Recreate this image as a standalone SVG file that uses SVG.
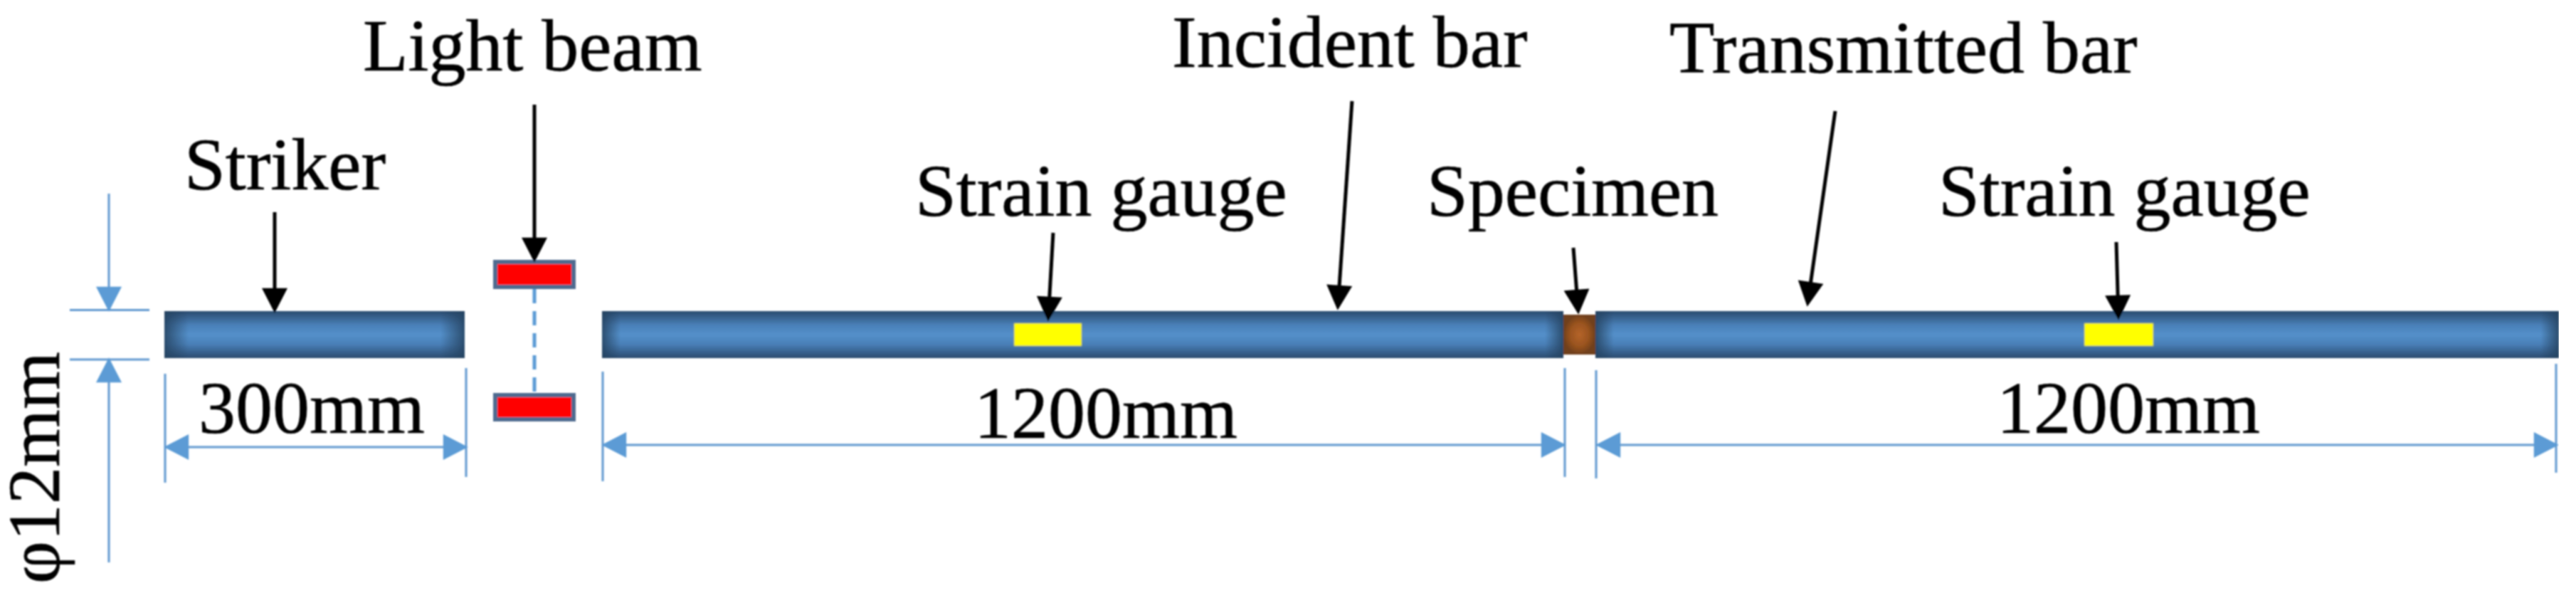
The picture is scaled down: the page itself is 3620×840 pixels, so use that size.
<svg xmlns="http://www.w3.org/2000/svg" width="3620" height="840" viewBox="0 0 3620 840">
<style>
.t{font-family:"Liberation Serif","Times New Roman",serif;font-size:104px;fill:#000;stroke:#000;stroke-width:.7}
.blk{stroke:#000;stroke-width:5;fill:none;marker-end:url(#ah)}
.dim{stroke:#5f97cf;stroke-width:3;fill:none}
.one{marker-end:url(#bh)}
.two{marker-start:url(#bh);marker-end:url(#bh)}
.shade{fill:url(#endL)}
.red{fill:#f00;stroke:#4f6a8f;stroke-width:6}
.yel{fill:#ff0;stroke:#8fa37a;stroke-width:1}
.bar{fill:url(#barV)}
</style>
<defs>
<linearGradient id="barV" x1="0" y1="0" x2="0" y2="1">
<stop offset="0" stop-color="#2a4b6f"/><stop offset=".3" stop-color="#4a80b8"/><stop offset=".5" stop-color="#5490ca"/><stop offset=".7" stop-color="#4a80b8"/><stop offset="1" stop-color="#2a4b6f"/>
</linearGradient>
<linearGradient id="endL" x1="0" y1="0" x2="1" y2="0">
<stop offset="0" stop-color="#24425f" stop-opacity=".85"/><stop offset="1" stop-color="#24425f" stop-opacity="0"/>
</linearGradient>
<radialGradient id="spec"><stop offset="0" stop-color="#b5642a"/><stop offset=".6" stop-color="#99531f"/><stop offset="1" stop-color="#6f3f1a"/></radialGradient>
<marker id="ah" markerUnits="userSpaceOnUse" markerWidth="36" markerHeight="36" viewBox="0 0 32 33" refX="2" refY="16.5" orient="auto"><path d="M0 0L32 16.5L0 33Z" fill="#000"/></marker>
<marker id="bh" markerUnits="userSpaceOnUse" markerWidth="36" markerHeight="36" viewBox="0 0 32 33" refX="2" refY="16.5" orient="auto-start-reverse"><path d="M0 0L32 16.5L0 33Z" fill="#5b9bd5"/></marker>
<filter id="soft" x="0" y="0" width="1" height="1"><feGaussianBlur stdDeviation="0.9"/></filter>
</defs>
<rect width="3620" height="840" fill="#fff"/>
<g filter="url(#soft)">
<g id="striker">
<rect class="bar" x="231" y="437" width="422" height="66"/>
<rect class="shade" x="231" y="437" width="34" height="66"/>
<rect class="shade" x="619" y="437" width="34" height="66" transform="rotate(180 636 470)"/>
<text class="t" x="259" y="266">Striker</text>
</g>
<g id="light-beam">
<rect class="red" x="696" y="368" width="110" height="35"/>
<rect class="red" x="696" y="555" width="110" height="34"/>
<text class="t" x="510" y="99">Light beam</text>
</g>
<g id="incident-bar">
<rect class="bar" x="846" y="437" width="1351" height="66"/>
<rect class="shade" x="846" y="437" width="26" height="66"/>
<rect class="shade" x="2171" y="437" width="26" height="66" transform="rotate(180 2184 470)"/>
<text class="t" x="1647" y="94">Incident bar</text>
</g>
<g id="gauge-1">
<rect class="yel" x="1425" y="454" width="95" height="32"/>
<text class="t" x="1286" y="303">Strain gauge</text>
</g>
<g id="specimen">
<rect x="2197" y="442" width="45" height="56" fill="url(#spec)"/>
<text class="t" x="2005" y="303">Specimen</text>
</g>
<g id="transmitted-bar">
<rect class="bar" x="2242" y="437" width="1354" height="66"/>
<rect class="shade" x="2242" y="437" width="26" height="66"/>
<rect class="shade" x="3570" y="437" width="26" height="66" transform="rotate(180 3583 470)"/>
<text class="t" x="2346" y="102">Transmitted bar</text>
</g>
<g id="gauge-2">
<rect class="yel" x="2929" y="454" width="97" height="32"/>
<text class="t" x="2724" y="303">Strain gauge</text>
</g>
<g id="dimension-labels">
<text class="t" x="279" y="608">300mm</text>
<text class="t" x="1369" y="615">1200mm</text>
<text class="t" x="2806" y="608">1200mm</text>
<text class="t" transform="translate(83 820) rotate(-90)">φ12mm</text>
</g>
<g id="connectors">
<line class="blk" x1="386" y1="298" x2="386" y2="407"/>
<line class="blk" x1="751" y1="147" x2="751" y2="336"/>
<line class="blk" x1="1480" y1="327" x2="1474.7" y2="419"/>
<line class="blk" x1="1900" y1="142" x2="1882" y2="403"/>
<line class="blk" x1="2211" y1="348" x2="2215.7" y2="409"/>
<line class="blk" x1="2579" y1="156" x2="2544.3" y2="398.3"/>
<line class="blk" x1="2974" y1="340" x2="2976.2" y2="417"/>
<line x1="751" y1="406" x2="751" y2="552" stroke="#5b9bd5" stroke-width="5" stroke-dasharray="20 11"/>
<line class="dim" x1="98" y1="435.5" x2="210" y2="435.5"/>
<line class="dim" x1="98" y1="505" x2="210" y2="505"/>
<line class="dim one" x1="153" y1="272" x2="153" y2="405"/>
<line class="dim one" x1="153" y1="790" x2="153" y2="535"/>
<line class="dim" x1="232" y1="525" x2="232" y2="678"/>
<line class="dim" x1="655" y1="517" x2="655" y2="670"/>
<line class="dim two" x1="263" y1="628" x2="625" y2="628"/>
<line class="dim" x1="847" y1="522" x2="847" y2="676"/>
<line class="dim" x1="2199" y1="517" x2="2199" y2="670"/>
<line class="dim two" x1="878" y1="625" x2="2168" y2="625"/>
<line class="dim" x1="2243" y1="520" x2="2243" y2="672"/>
<line class="dim" x1="3592" y1="511" x2="3592" y2="664"/>
<line class="dim two" x1="2275" y1="625" x2="3563" y2="625"/>
</g>
</g>
</svg>
